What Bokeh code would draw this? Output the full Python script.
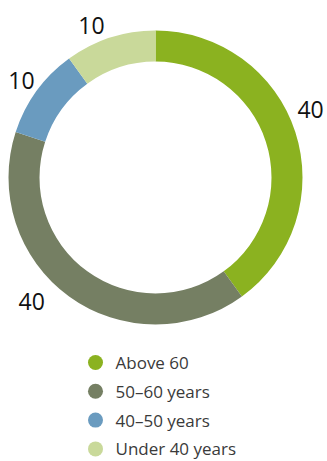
import math
from bokeh.plotting import figure
from bokeh.models import Range1d
from bokeh.core.properties import value
from bokeh.embed import file_html
from bokeh.resources import INLINE

# ---- data ----
categories = ["Above 60", "50–60 years", "40–50 years", "Under 40 years"]
shares = [40, 40, 10, 10]
colors = ["#8bb220", "#757f63", "#6a9bbf", "#c9d99a"]

W, H = 327, 461
p = figure(width=W, height=H, x_range=Range1d(0, W), y_range=Range1d(0, H),
           output_backend="svg", toolbar_location=None, min_border=0)
p.axis.visible = False
p.grid.visible = False
p.outline_line_color = None
p.background_fill_color = "white"
p.border_fill_color = "white"

cx, cy = 155, 284
r_out, r_in = 147, 116
total = sum(shares)

starts, ends, mids = [], [], []
cum = 0
for s in shares:
    a0 = math.pi / 2 - cum / total * 2 * math.pi
    cum += s
    a1 = math.pi / 2 - cum / total * 2 * math.pi
    starts.append(a0)
    ends.append(a1)
    mids.append((a0 + a1) / 2)

p.annular_wedge(x=[cx] * len(shares), y=[cy] * len(shares),
                inner_radius=r_in, outer_radius=r_out,
                start_angle=starts, end_angle=ends, direction="clock",
                fill_color=colors, line_color=None)

# value labels placed around the ring (angular nudges for readability)
nudges = [math.radians(5.8), math.radians(-9), 0.0, math.radians(4.8)]
radii = [169.5, 175, 165.7, 165.4]
lx = [cx + r * math.cos(m + n) for m, n, r in zip(mids, nudges, radii)]
ly = [cy + r * math.sin(m + n) for m, n, r in zip(mids, nudges, radii)]
p.text(x=lx, y=ly, text=[str(v) for v in shares],
       text_font=value("Open Sans"), text_font_size="23px", text_color="#111111",
       text_align="center", text_baseline="middle")

# legend
leg_x = 95
leg_y0 = 99
step = 28.8
ys = [leg_y0 - i * step for i in range(len(categories))]
p.scatter(x=[leg_x] * len(categories), y=ys, size=15, marker="circle",
          fill_color=colors, line_color=None)
p.text(x=[leg_x + 20] * len(categories), y=ys, text=categories,
       text_font=value("Open Sans"), text_font_size="17px", text_color="#3a3a3a",
       text_align="left", text_baseline="middle")

open("out.html", "w").write(file_html(p, INLINE))
